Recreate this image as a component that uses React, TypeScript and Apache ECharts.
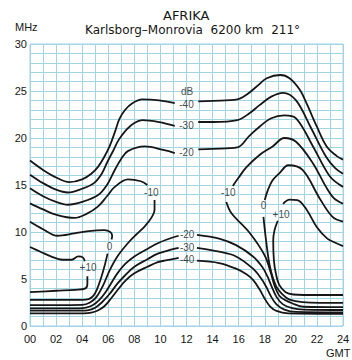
import React, { useEffect, useRef } from "react";
import * as echarts from "echarts";

// ---- axis ticks ----
const xTickLabels = ["00", "02", "04", "06", "08", "10", "12", "14", "16", "18", "20", "22", "24"];
const yTickLabels = ["0", "5", "10", "15", "20", "25", "30"];

// ---- contour segments: [hour GMT, MHz] ----
// upper (high-frequency) branches
const up40Left = [[0, 17.6], [1, 16.6], [2, 15.8], [3, 15.3], [4, 15.6], [4.7, 16.2], [5.2, 16.9], [5.7, 18.0], [6.1, 19.1], [6.5, 20.6], [6.85, 22.0], [7.3, 23.0], [7.85, 23.7], [8.6, 24.1], [9.9, 24.0], [11.1, 23.7]];
const up40Right = [[12.9, 23.9], [14, 23.95], [15.9, 24.1], [16.6, 24.6], [17.4, 25.5], [18.15, 26.35], [19.2, 26.7], [19.9, 26.35], [20.7, 25.1], [21.2, 23.7], [22.0, 21.2], [22.75, 19.1], [23.5, 18.1], [24, 17.7]];
const up30Left = [[0, 16.1], [1, 15.2], [2, 14.5], [2.9, 14.2], [4, 14.6], [4.9, 15.2], [5.5, 16.2], [5.95, 17.5], [6.4, 18.7], [6.8, 19.8], [7.4, 20.9], [8, 21.6], [8.6, 21.9], [9.9, 21.7], [11.1, 21.3]];
const up30Right = [[12.9, 21.7], [14, 21.7], [15.9, 21.9], [16.8, 22.6], [17.6, 23.5], [18.5, 24.4], [19.4, 24.8], [20.4, 24.0], [21.5, 21.2], [22.7, 18.0], [23.4, 16.8], [24, 16.2]];
const up20Left = [[0, 14.65], [1, 13.8], [2, 13.2], [2.9, 12.9], [4, 13.2], [5.2, 13.9], [5.9, 15.0], [6.5, 16.6], [7.0, 17.8], [7.5, 18.6], [8.8, 19.1], [10.3, 18.7], [11.1, 18.4]];
const up20Right = [[12.9, 18.8], [14, 18.85], [15.9, 19.0], [16.8, 20.2], [17.6, 21.2], [18.5, 22.1], [19.5, 22.4], [20.4, 22.1], [21.7, 19.1], [23, 15.9], [24, 14.8]];

// -10 dB contour
const m10LeftTop = [[0, 13.05], [1, 12.4], [2.1, 11.8], [3.4, 11.5], [4.3, 11.9], [5.2, 12.7], [5.9, 13.8], [6.5, 14.8], [7.5, 15.6], [8.5, 15.4], [9.0, 15.0]];
const m10LeftDown = [[9.55, 13.4], [9.55, 12.4], [9.3, 11.5], [8.8, 10.6], [8.2, 9.8], [7.5, 8.8], [6.7, 7.4], [6.1, 5.9], [5.6, 4.3], [5.1, 3.1], [4.6, 2.5], [4, 2.25], [2, 2.23], [0, 2.23]];
const m10RightTop = [[15.55, 14.9], [16.0, 15.8], [16.6, 16.9], [17.6, 18.2], [18.6, 19.1], [19.5, 20.0], [20.4, 19.6], [21.7, 17.3], [22.7, 14.8], [23.3, 13.6], [24, 13.0]];
const m10RightDown = [[15.05, 13.2], [15.45, 12.0], [16.85, 9.9], [18.0, 7.5], [18.5, 5.5], [18.75, 4.3], [19.2, 3.1], [20.3, 2.3], [21, 2.05], [24, 2.0]];

// 0 dB contour
const z0LeftTop = [[0, 11.1], [1, 10.3], [2.1, 9.6], [3.4, 9.85], [4.5, 10.1], [5.7, 10.2], [6.15, 10.0], [6.3, 9.6], [6.25, 9.2]];
const z0LeftDown = [[5.95, 7.7], [5.7, 6.3], [5.4, 4.9], [5.1, 3.8], [4.85, 3.2], [4.5, 2.85], [4, 2.77], [0, 2.77]];
const z0RightTop = [[18.0, 13.4], [18.25, 14.5], [18.6, 15.5], [19.15, 16.3], [19.8, 17.1], [20.9, 16.6], [22.2, 13.6], [23.2, 11.6], [24, 11.1]];
const z0RightDown = [[17.9, 11.6], [18.1, 9.1], [18.4, 6.3], [18.85, 4.3], [19.4, 3.3], [19.9, 2.8], [20.9, 2.55], [24, 2.45]];

// +10 dB contour
const p10LeftTop = [[0, 8.4], [0.8, 7.9], [1.6, 7.4], [2.5, 7.05], [3.2, 7.05], [3.7, 7.4], [4.05, 7.3], [4.2, 6.9]];
const p10LeftDown = [[4.4, 5.3], [4.4, 4.5], [4.25, 4.0], [3.5, 3.85], [2, 3.75], [0, 3.6]];
const p10RightTop = [[19.4, 13.0], [19.9, 13.45], [20.5, 13.4], [21.2, 12.4], [22, 10.5], [22.8, 9.3], [23.5, 8.8], [24, 8.5]];
const p10RightDown = [[19.0, 11.2], [18.75, 10.2], [18.65, 9.1], [18.7, 7.0], [18.85, 5.6], [19.1, 4.4], [19.6, 3.6], [20.2, 3.35], [21, 3.3], [24, 3.3]];

// lower (low-frequency) branches
const lo20Left = [[11.4, 9.6], [10.5, 9.2], [9.8, 8.8], [9, 8.2], [8, 7.4], [7.3, 6.6], [6.7, 5.6], [6.2, 4.5], [5.75, 3.5], [5.3, 2.75], [4.8, 2.2], [4.3, 1.95], [3.8, 1.88], [0, 1.88]];
const lo20Right = [[12.8, 9.7], [14.5, 9.3], [15.8, 8.6], [17.1, 7.4], [17.8, 6.3], [18.2, 5.3], [18.5, 4.3], [18.9, 3.1], [19.4, 2.3], [20.1, 1.9], [21, 1.75], [24, 1.7]];
const lo30Left = [[11.4, 8.3], [10.5, 8.0], [9.8, 7.7], [9, 7.1], [8, 6.3], [7.3, 5.4], [6.7, 4.5], [6.1, 3.4], [5.5, 2.5], [5.0, 1.95], [4.5, 1.7], [3.9, 1.63], [0, 1.63]];
const lo30Right = [[12.8, 8.3], [14.5, 7.9], [15.8, 7.4], [17.1, 6.1], [17.7, 5.1], [18.1, 4.2], [18.5, 3.1], [18.9, 2.3], [19.5, 1.75], [20.4, 1.5], [24, 1.45]];
const lo40Left = [[11.4, 7.25], [10.5, 7.0], [9.8, 6.8], [9, 6.3], [8, 5.6], [7.3, 4.8], [6.7, 3.8], [6.2, 2.9], [5.7, 2.1], [5.2, 1.65], [4.7, 1.42], [4.1, 1.35], [0, 1.35]];
const lo40Right = [[12.8, 6.95], [14.5, 6.7], [15.8, 6.1], [16.6, 5.5], [17.1, 4.9], [17.6, 3.9], [18.0, 2.9], [18.4, 2.1], [18.9, 1.6], [19.8, 1.35], [24, 1.3]];

// contour labels: [hour, MHz, text]
const contourLabels = [
  [12.05, 24.9, "dB"],
  [12.0, 23.55, "-40"],
  [12.0, 21.3, "-30"],
  [12.0, 18.5, "-20"],
  [9.3, 14.15, "-10"],
  [15.2, 14.15, "-10"],
  [6.1, 8.45, "0"],
  [17.9, 12.8, "0"],
  [4.45, 6.2, "+10"],
  [19.25, 11.9, "+10"],
  [12.05, 9.75, "-20"],
  [12.05, 8.4, "-30"],
  [12.05, 7.1, "-40"],
];

const segments = [
  up40Left, up40Right, up30Left, up30Right, up20Left, up20Right,
  m10LeftTop, m10LeftDown, m10RightTop, m10RightDown,
  z0LeftTop, z0LeftDown, z0RightTop, z0RightDown,
  p10LeftTop, p10LeftDown, p10RightTop, p10RightDown,
  lo20Left, lo20Right, lo30Left, lo30Right, lo40Left, lo40Right,
];

const GRID = "#a3d4e4";
const INK = "#161616";

export default function App() {
  const ref = useRef<HTMLDivElement>(null);
  useEffect(() => {
    if (!ref.current) return;
    const chart = echarts.init(ref.current, undefined, { renderer: "svg" });
    const lineSeries = segments.map((d) => ({
      type: "line",
      data: d,
      smooth: 0.35,
      symbol: "none",
      silent: true,
      lineStyle: { color: INK, width: 1.8 },
      z: 3,
    }));
    chart.setOption({
      animation: false,
      backgroundColor: "#ffffff",
      grid: { left: 30, right: 9, top: 44, bottom: 34, show: true, borderColor: GRID, borderWidth: 1, backgroundColor: "transparent", outerBoundsMode: "none" },
      xAxis: {
        type: "value",
        min: 0,
        max: 24,
        interval: 2,
        axisLine: { show: false },
        axisTick: { show: false },
        axisLabel: {
          margin: 7,
          color: "#161616",
          fontSize: 11,
          fontFamily: "Liberation Sans",
          formatter: (v: number) => xTickLabels[Math.round(v / 2)] ?? "",
        },
        splitLine: { show: true, lineStyle: { color: GRID, width: 1 } },
        minorTick: { show: false, splitNumber: 2 },
        minorSplitLine: { show: true, lineStyle: { color: GRID, width: 1 } },
      },
      yAxis: {
        type: "value",
        min: 0,
        max: 30,
        interval: 5,
        axisLine: { show: false },
        axisTick: { show: false },
        axisLabel: {
          margin: 3,
          color: "#161616",
          fontSize: 11,
          fontFamily: "Liberation Sans",
          formatter: (v: number) => yTickLabels[Math.round(v / 5)] ?? "",
        },
        splitLine: { show: true, lineStyle: { color: GRID, width: 1 } },
        minorTick: { show: false, splitNumber: 5 },
        minorSplitLine: { show: true, lineStyle: { color: GRID, width: 1 } },
      },
      graphic: [
        { type: "text", left: 163, top: 9, style: { text: "AFRIKA", fontSize: 13, fontFamily: "DejaVu Sans", fill: "#161616" } },
        { type: "text", left: 85, top: 24, style: { text: "Karlsborg–Monrovia  6200 km  211°", fontSize: 12, fontFamily: "DejaVu Sans", fill: "#161616" } },
        { type: "text", left: 15, top: 21, style: { text: "MHz", fontSize: 11, fontFamily: "Liberation Sans", fill: "#161616" } },
        { type: "text", left: 326, top: 347, style: { text: "GMT", fontSize: 11, fontFamily: "Liberation Sans", fill: "#161616" } },
      ],
      series: [
        ...lineSeries,
        {
          type: "scatter",
          data: contourLabels,
          symbolSize: 0,
          silent: true,
          z: 4,
          label: {
            show: true,
            position: "inside",
            formatter: (p: any) => p.data[2],
            color: INK,
            fontSize: 10,
            fontFamily: "Liberation Sans",
          },
        },
      ],
    });
    return () => chart.dispose();
  }, []);
  return <div ref={ref} style={{ position: "fixed", left: 0, top: 0, width: 352, height: 360, background: "#fff" }} />;
}
